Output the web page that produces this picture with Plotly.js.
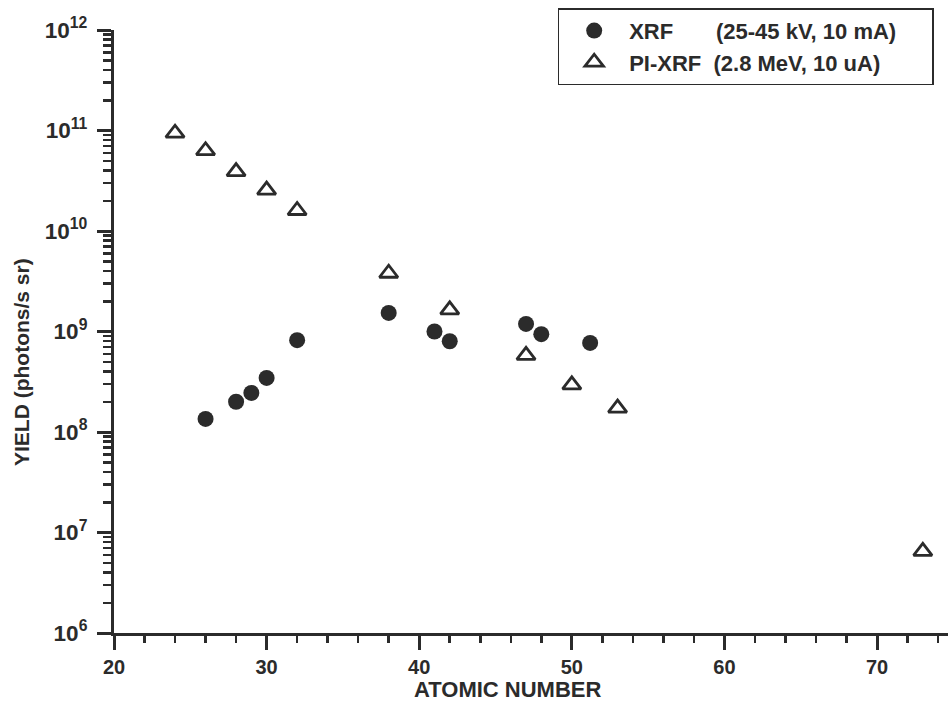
<!DOCTYPE html>
<html>
<head>
<meta charset="utf-8">
<script src="https://cdn.plot.ly/plotly-3.0.1.min.js"></script>
<style>html,body{margin:0;padding:0;background:#fff;}#chart{width:948px;height:709px;}</style>
</head>
<body>
<div id="chart"></div>
<script>
// Atomic numbers and yields
const xrfZ = [26, 28, 29, 30, 32, 38, 41, 42, 47, 48, 51.2];
const xrfYield = [1.35e8, 2.0e8, 2.45e8, 3.45e8, 8.2e8, 1.53e9, 1.0e9, 8.0e8, 1.19e9, 9.4e8, 7.7e8];
const pixrfZ = [24, 26, 28, 30, 32, 38, 42, 47, 50, 53, 73];
const pixrfYield = [9.4e10, 6.3e10, 3.9e10, 2.55e10, 1.6e10, 3.8e9, 1.64e9, 5.8e8, 2.95e8, 1.73e8, 6.5e6];
const seriesNames = ["XRF\u00a0\u00a0\u00a0\u00a0\u00a0\u00a0\u00a0(25-45 kV, 10 mA)\u00a0\u00a0\u00a0\u00a0\u00a0", "PI-XRF\u00a0\u00a0(2.8 MeV, 10 uA)"];
const xTitle = "ATOMIC NUMBER";
const yTitle = "YIELD (photons/s sr)";

const ink = "#2b2b2b";
const fam = "Liberation Sans, Arial, sans-serif";

const traces = [
  {x: xrfZ, y: xrfYield, name: seriesNames[0], type: "scatter", mode: "markers",
   marker: {symbol: "circle", size: 16, color: ink, line: {width: 0}}},
  {x: pixrfZ, y: pixrfYield, name: seriesNames[1], type: "scatter", mode: "markers",
   marker: {symbol: "triangle-up-open", size: 16, color: ink, line: {width: 2.8, color: ink}}}
];

const layout = {
  width: 948, height: 709,
  margin: {l: 114, r: 0, t: 30, b: 76},
  paper_bgcolor: "#fff", plot_bgcolor: "#fff",
  font: {family: fam, color: ink, size: 20, weight: "bold"},
  showlegend: true,
  legend: {x: 0.532, y: 1.036, xanchor: "left", yanchor: "top",
    bordercolor: ink, borderwidth: 1.5, bgcolor: "#fff",
    font: {family: fam, size: 22, color: ink, weight: "bold"},
    itemwidth: 60, tracegroupgap: 0},
  xaxis: {range: [20, 74.65], showgrid: false, zeroline: false,
    showline: true, linecolor: ink, linewidth: 3,
    ticks: "outside", ticklen: 14, tickwidth: 3, tickcolor: ink,
    dtick: 10, tick0: 20,
    minor: {ticks: "outside", ticklen: 7, tickwidth: 2.5, tickcolor: ink, dtick: 2, showgrid: false},
    tickfont: {family: fam, size: 20, color: ink, weight: "bold"}},
  yaxis: {type: "log", range: [6, 12], showgrid: false, zeroline: false,
    showline: true, linecolor: ink, linewidth: 3,
    ticks: "outside", ticklen: 14, tickwidth: 3, tickcolor: ink,
    dtick: 1, exponentformat: "power", showexponent: "all", ticklabelstandoff: 6,
    minor: {ticks: "outside", ticklen: 8, tickwidth: 2.5, tickcolor: ink, dtick: "D1", showgrid: false},
    tickfont: {family: fam, size: 18, color: ink, weight: "bold"}},
  annotations: [
    {text: xTitle, xref: "paper", yref: "paper", x: (508 - 114) / 834, y: (633 - 690) / 603, xanchor: "center", yanchor: "middle",
     showarrow: false, font: {family: fam, size: 22, color: ink, weight: "bold"}},
    {text: yTitle, xref: "paper", yref: "paper", x: 0, xshift: -92, y: (633 - 362) / 603, xanchor: "center", yanchor: "middle",
     textangle: -90, showarrow: false, font: {family: fam, size: 21, color: ink, weight: "bold"}}
  ]
};

Plotly.newPlot("chart", traces, layout, {displayModeBar: false, staticPlot: true});
</script>
</body>
</html>
